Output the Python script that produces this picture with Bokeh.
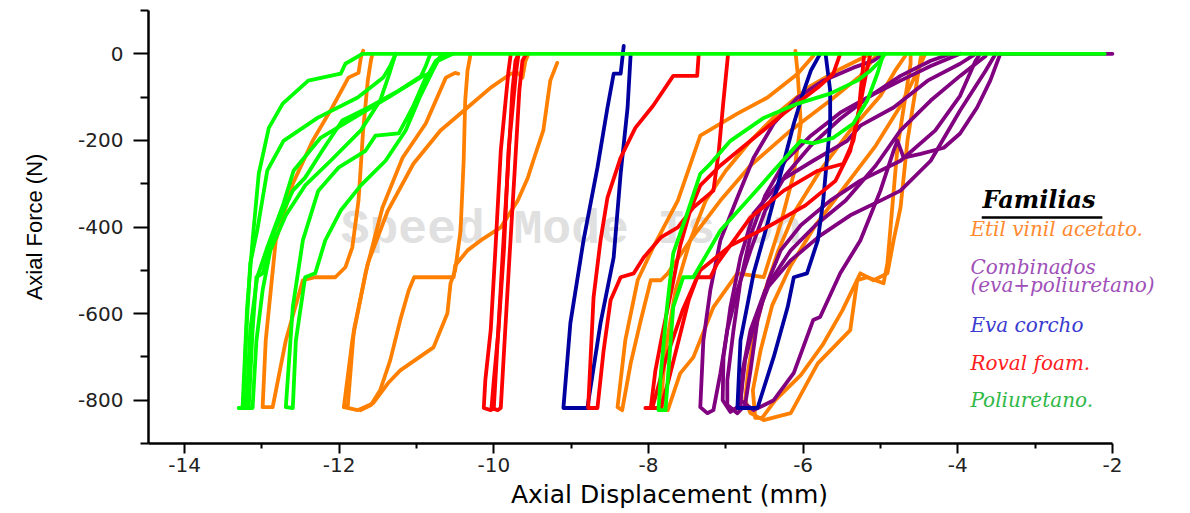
from bokeh.plotting import figure
from bokeh.models import Range1d, FixedTicker, Label, BoxAnnotation
from bokeh.embed import file_html
from bokeh.resources import INLINE

# ---------------- data ----------------
x_ticks = [-14, -12, -10, -8, -6, -4, -2]
x_minor = [-13, -11, -9, -7, -5, -3]
y_ticks = [0, -200, -400, -600, -800]
y_minor = [100, -100, -300, -500, -700, -900]

# Etil vinil acetato (orange)
eva_x = [
    [-11.57, -11.59, -11.63, -11.69, -11.75, -11.83, -11.92, -12.05, -12.31, -12.47, -12.69, -12.86, -12.99, -12.95, -12.82, -12.60, -12.34, -12.09, -11.88, -11.75, -11.72, -11.69],
    [-10.30, -10.34, -10.37, -10.39, -10.43, -10.50, -10.56, -10.60, -10.78, -11.21, -11.37, -11.56, -11.76, -11.94, -11.83, -11.66, -11.44, -11.18, -10.88, -10.62, -10.50, -10.46],
    [-11.89, -11.81, -11.63, -11.37, -11.04, -10.69, -10.34, -10.04, -9.78, -9.69, -9.63, -9.59, -9.55],
    [-9.18, -9.27, -9.36, -9.49, -9.56, -9.69, -9.91, -10.17, -10.34, -10.50, -10.52, -11.03, -11.10, -11.21, -11.34, -11.47, -11.59, -11.72],
    [-5.87, -6.07, -6.46, -6.85, -7.33, -7.62, -7.94, -8.14, -8.30, -8.40, -8.34, -8.23, -8.10, -7.97, -7.84, -7.75, -7.46, -7.07, -6.68, -6.16, -5.65, -5.26, -5.06],
    [-6.10, -6.07, -6.03, -6.12, -6.29, -6.51, -6.85, -7.16, -7.42, -7.59, -7.75, -7.84, -7.78, -7.65, -7.46, -7.26, -7.00, -6.68, -6.29, -5.90, -5.52, -5.26, -5.13],
    [-4.61, -4.61, -4.78, -4.91, -4.96, -5.17, -5.30, -5.39, -5.81, -6.16, -6.51, -6.68, -6.75, -6.71, -6.62, -6.49, -6.32, -6.10, -5.78, -5.39, -5.00, -4.81, -4.68],
    [-4.46, -4.48, -4.65, -4.74, -4.83, -4.91, -5.09, -5.26, -5.49, -5.75, -6.03, -6.36, -6.53, -6.62, -6.65, -6.55, -6.40, -6.16, -5.84, -5.45, -5.06, -4.74, -4.55, -4.42],
]
eva_y = [
    [0, -16, -62, -177, -339, -447, -493, -516, -516, -523, -662, -816, -816, -662, -431, -300, -200, -124, -55, -44, -9, 7],
    [0, -39, -108, -247, -408, -500, -530, -599, -678, -731, -761, -807, -823, -816, -662, -507, -355, -240, -161, -55, -44, -46],
    [-816, -638, -484, -362, -254, -177, -124, -78, -46, -44, -55, -16, 0],
    [-21, -62, -177, -247, -286, -339, -401, -431, -454, -489, -516, -516, -546, -615, -708, -777, -811, -823],
    [-5, -46, -101, -138, -189, -339, -447, -523, -662, -816, -823, -715, -616, -523, -523, -507, -431, -339, -258, -177, -108, -51, -5],
    [7, -46, -161, -277, -392, -516, -507, -585, -701, -738, -823, -811, -685, -546, -431, -339, -270, -201, -131, -74, -35, -12, 0],
    [0, -23, -217, -484, -530, -516, -523, -638, -715, -830, -846, -830, -800, -731, -638, -546, -454, -362, -270, -177, -97, -39, -5],
    [0, -9, -200, -355, -431, -507, -523, -507, -592, -673, -742, -800, -841, -841, -777, -685, -581, -489, -396, -304, -212, -120, -51, 0],
]

# Combinados eva+poliuretano (purple)
comb_x = [
    [-3.45, -2.0],
    [-5.00, -5.09, -5.35, -5.74, -6.07, -6.38, -6.64, -6.85, -7.07, -7.20, -7.29, -7.33, -7.24, -7.16, -7.07, -6.98, -6.85, -6.68, -6.49, -6.23, -5.90, -5.52, -5.13, -4.74, -4.35, -4.09],
    [-3.97, -4.35, -4.74, -5.13, -5.52, -5.90, -6.23, -6.49, -6.68, -6.81, -6.90, -6.98, -6.98, -6.85, -6.75, -6.68, -6.59, -6.45, -6.29, -6.03, -5.65, -5.26, -4.74, -4.29, -3.97, -3.77, -3.71],
    [-3.45, -3.58, -3.75, -3.97, -4.18, -4.48, -4.70, -4.78, -4.83, -5.00, -5.26, -5.52, -5.78, -5.87, -6.12, -6.38, -6.64, -6.81, -6.75, -6.62, -6.42, -6.16, -5.84, -5.45, -5.06, -4.74, -4.35, -3.97, -3.64],
    [-3.77, -3.97, -4.39, -4.83, -5.26, -5.43, -5.87, -6.29, -6.64, -6.81, -6.94, -7.03, -7.04, -6.94, -6.81, -6.78, -6.68, -6.49, -6.16, -5.78, -5.39, -5.00, -4.74, -4.35, -3.97, -3.64, -3.51],
]
comb_y = [
    [0, 0],
    [-5, -16, -32, -62, -101, -161, -240, -332, -431, -546, -662, -816, -830, -823, -738, -638, -546, -454, -362, -281, -212, -150, -97, -51, -16, 0],
    [0, -28, -62, -97, -136, -189, -247, -327, -420, -524, -638, -754, -811, -830, -811, -731, -615, -524, -454, -396, -339, -293, -247, -177, -97, -16, 0],
    [0, -62, -124, -184, -217, -231, -240, -201, -224, -316, -431, -507, -608, -615, -737, -800, -823, -800, -708, -615, -524, -454, -396, -339, -258, -177, -108, -51, -5],
    [0, -23, -62, -124, -166, -201, -247, -293, -369, -470, -585, -701, -800, -827, -811, -730, -638, -546, -477, -420, -373, -339, -316, -247, -131, -39, 0],
]

# Eva corcho (blue)
corcho_x = [
    [-8.32, -8.36, -8.45, -8.53, -8.66, -8.84, -9.01, -9.10, -8.79, -8.62, -8.45, -8.36, -8.27, -8.23],
    [-5.78, -5.90, -5.99, -6.12, -6.29, -6.46, -6.64, -6.81, -6.85, -6.59, -6.38, -6.20, -6.12, -5.95, -5.81, -5.74, -5.65, -5.65, -5.71],
]
corcho_y = [
    [18, -46, -46, -124, -263, -431, -622, -818, -818, -622, -470, -277, -124, 0],
    [0, -39, -85, -161, -277, -392, -507, -662, -818, -818, -700, -585, -516, -507, -431, -339, -161, -85, 0],
]

# Roval foam (red)
roval_x = [
    [-9.78, -9.81, -9.91, -9.98, -10.04, -10.11, -10.13, -10.04, -10.00, -9.95, -9.89, -9.82, -9.76, -9.72, -9.68],
    [-9.68, -9.71, -9.81, -9.87, -9.94, -10.00, -10.03, -9.95, -9.91, -9.86, -9.80, -9.73, -9.67, -9.63, -9.58],
    [-7.35, -7.37, -7.68, -7.94, -8.17, -8.36, -8.53, -8.62, -8.71, -8.78, -8.66, -8.58, -8.49, -8.36, -8.19, -8.06, -7.84, -7.62, -7.42, -7.16, -7.09, -7.03, -6.97],
    [-5.13, -5.19, -5.26, -5.35, -5.48, -5.81, -6.25, -6.68, -7.11, -7.20, -7.37, -7.48, -7.61, -7.74, -7.84, -7.97, -7.91, -7.81, -7.69, -7.59, -7.46, -7.33, -7.07, -6.68, -6.25, -5.81, -5.61, -5.52],
    [-8.04, -7.95, -7.78, -7.56, -7.33, -6.94, -6.42, -5.97, -5.58, -5.39, -5.28, -5.23, -5.21],
]
roval_y = [
    [0, -39, -224, -454, -638, -754, -818, -823, -818, -662, -477, -270, -85, -16, 0],
    [0, -39, -224, -454, -638, -754, -818, -823, -818, -662, -477, -270, -85, -16, 0],
    [0, -51, -51, -120, -171, -240, -332, -431, -562, -818, -818, -685, -569, -516, -507, -470, -424, -401, -355, -316, -224, -108, 0],
    [0, -51, -115, -201, -254, -270, -316, -378, -484, -516, -516, -569, -662, -754, -818, -818, -731, -638, -535, -443, -362, -304, -258, -201, -138, -78, -46, 0],
    [-818, -818, -708, -593, -500, -443, -396, -350, -293, -224, -131, -39, 0],
]

# Poliuretano (green)
poli_x = [
    [-11.70, -11.92, -11.98, -12.40, -12.73, -12.91, -13.04, -13.12, -13.19, -13.25, -13.17, -13.12, -13.07, -12.99, -12.82, -12.60, -12.44, -12.22, -11.96, -11.62, -11.23, -10.97, -10.84, -10.75, -10.62],
    [-11.27, -11.34, -11.43, -11.76, -12.28, -12.72, -12.93, -13.06, -13.15, -13.20, -13.24, -13.30],
    [-10.82, -10.88, -10.95, -11.37, -11.81, -12.24, -12.59, -12.72, -12.93, -13.06, -13.15, -13.20, -13.12, -13.07, -12.99, -12.89, -12.69, -12.44, -12.11, -11.72, -11.47, -11.36, -11.27],
    [-10.53, -10.72, -10.88, -11.05, -11.23, -11.53, -11.66, -12.01, -12.27, -12.47, -12.60, -12.69, -12.60, -12.56, -12.44, -12.31, -12.18, -11.98, -11.72, -11.40, -11.14, -10.95, -10.79, -10.69],
    [-4.94, -5.00, -5.13, -5.30, -5.65, -6.07, -6.51, -6.94, -7.20, -7.33, -7.50, -7.68, -7.76, -7.84, -7.87, -7.78],
    [-7.78, -7.68, -7.55, -7.42, -7.24, -7.07, -6.72, -6.38, -6.03, -5.87, -5.61, -5.35, -5.17, -5.04, -4.96],
    [-11.70, -2.1],
]
poli_y = [
    [0, -23, -46, -62, -115, -171, -277, -431, -585, -818, -818, -638, -516, -507, -401, -316, -286, -224, -154, -124, -85, -55, -46, -16, 0],
    [0, -28, -55, -101, -148, -201, -270, -408, -484, -638, -818, -818],
    [0, -28, -55, -101, -148, -194, -270, -346, -447, -516, -638, -818, -818, -662, -546, -454, -373, -304, -247, -177, -108, -51, 0],
    [0, -16, -55, -124, -184, -189, -224, -263, -316, -431, -585, -816, -818, -662, -516, -507, -431, -362, -304, -247, -177, -97, -39, -5],
    [0, -16, -39, -62, -92, -115, -148, -201, -254, -277, -369, -461, -585, -738, -823, -823],
    [-823, -585, -516, -516, -461, -408, -339, -270, -201, -207, -194, -161, -108, -46, 0],
    [0, 0],
]

families = ["Etil vinil acetato.", "Combinados", "(eva+poliuretano)", "Eva corcho", "Roval foam.", "Poliuretano."]

# ---------------- figure ----------------
# the frame runs to the right edge of the page so the legend texts are not clipped;
# the x axis itself stops at -2 (axis bounds)
p = figure(width=1190, height=513, output_backend="svg", toolbar_location=None,
           x_range=Range1d(-14.466, -0.99), y_range=Range1d(-900, 100),
           min_border_left=148, min_border_right=0, min_border_top=10, min_border_bottom=70)
p.outline_line_color = None
p.grid.visible = False
p.background_fill_color = "white"

wm = Label(x=-11.98, y=-470, text="Speed  Mode  Is  On", text_font="Liberation Mono",
           text_font_size="48px", text_font_style="bold", text_color="#e0e0e0", level="underlay")
p.add_layout(wm)

lw = 3.8
for xs, ys, col in [(eva_x, eva_y, "#FF8000"), (comb_x, comb_y, "#800080"),
                    (corcho_x, corcho_y, "#0000A0"), (roval_x, roval_y, "#FF0000"),
                    (poli_x, poli_y, "#00FF00")]:
    p.multi_line(xs, ys, line_color=col, line_width=lw, line_join="round", line_cap="round")

# axes
xa = p.xaxis[0]
xa.ticker = FixedTicker(ticks=x_ticks, minor_ticks=x_minor)
xa.major_label_overrides = {float(t): str(t) for t in x_ticks}
xa.axis_label = "Axial Displacement (mm)"
xa.bounds = (-14.466, -2.0)
ya = p.yaxis[0]
ya.ticker = FixedTicker(ticks=y_ticks, minor_ticks=y_minor)
ya.major_label_overrides = {float(t): str(t) for t in y_ticks}
ya.axis_label = "Axial Force (N)"

for ax in (xa, ya):
    ax.axis_line_width = 2.5
    ax.axis_line_color = "black"
    ax.major_tick_line_width = 2
    ax.minor_tick_line_width = 2
    ax.major_tick_in = 0
    ax.minor_tick_in = 0
    ax.major_label_text_font = "DejaVu Sans"
    ax.major_label_text_font_size = "20px"
    ax.major_label_text_color = "#222222"
    ax.axis_label_text_font_style = "normal"
    ax.axis_label_text_color = "black"

xa.major_tick_out = 10
xa.minor_tick_out = 5
xa.major_label_standoff = 4
xa.axis_label_text_font = "DejaVu Sans"
xa.axis_label_text_font_size = "25px"
xa.axis_label_standoff = 5

ya.major_tick_out = 15
ya.minor_tick_out = 8
ya.major_label_standoff = 10
ya.axis_label_text_font = "Liberation Sans"
ya.axis_label_text_font_size = "22px"
ya.axis_label_standoff = 28

# legend text
p.add_layout(Label(x=-3.68, y=-369, text="Familias", text_font="DejaVu Serif",
                   text_font_style="bold italic", text_font_size="24px", text_color="black"))
p.add_layout(BoxAnnotation(left=-3.69, right=-2.13, top=-375, bottom=-381,
                           fill_color="black", fill_alpha=1.0, line_color=None))
leg_y = [-433, -521, -562, -655, -742, -827]
leg_c = ["#FF8A30", "#A050B8", "#3A3AD0", "#FF2020", "#30B848"]
leg_cols = [leg_c[0], leg_c[1], leg_c[1], leg_c[2], leg_c[3], leg_c[4]]
for txt, yy, cc in zip(families, leg_y, leg_cols):
    p.add_layout(Label(x=-3.836, y=yy, text=txt, text_font="DejaVu Serif",
                       text_font_style="italic", text_font_size="20px", text_color=cc))

open("out.html", "w").write(file_html(p, INLINE))
